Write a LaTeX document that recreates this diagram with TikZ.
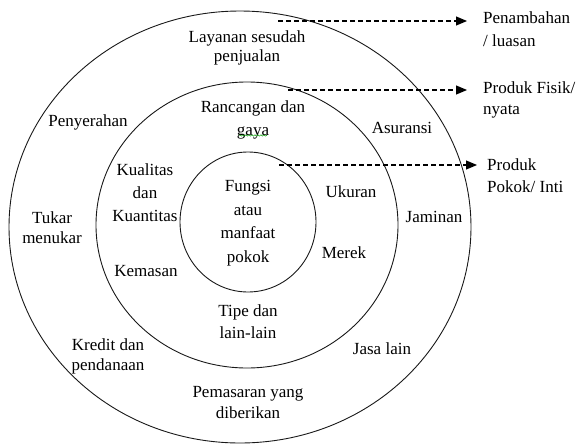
\documentclass[tikz,border=0pt]{standalone}
\usepackage{fontspec}
\setmainfont{Liberation Serif}
\usetikzlibrary{arrows.meta,decorations.pathmorphing}
\begin{document}
\begin{tikzpicture}[x=1pt,y=-1pt,
  ring/.style={draw=black!90,line width=0.9pt},
  lbl/.style={inner sep=0pt,align=center,font=\fontsize{17}{22}\selectfont},
  side/.style={inner sep=0pt,align=left,anchor=north west,font=\fontsize{17}{22}\selectfont},
  darrow/.style={draw=black,line width=1.1pt,dash pattern=on 5pt off 3pt,-{Triangle[length=11pt,width=9pt]}}]
\useasboundingbox (0,0) rectangle (579,445);
% rings
\draw[ring] (240,227) ellipse [x radius=231, y radius=216];
\draw[ring] (247,225) ellipse [x radius=151, y radius=143];
\draw[ring] (248,222) ellipse [x radius=68, y radius=70];
% outer ring labels
\node[lbl,font=\fontsize{17}{19}\selectfont] (layanan) at (247,48) {Layanan sesudah\\penjualan};
\node[lbl] (penyerahan) at (88,122) {Penyerahan};
\node[lbl,font=\fontsize{17}{20}\selectfont] (tukar) at (52,228) {Tukar\\menukar};
\node[lbl,font=\fontsize{17}{20}\selectfont] (kredit) at (108,356) {Kredit dan\\pendanaan};
\node[lbl,font=\fontsize{17}{21}\selectfont] (pemasaran) at (248,403) {Pemasaran yang\\diberikan};
\node[lbl] (asuransi) at (402,128) {Asuransi};
\node[lbl] (jaminan) at (434,217) {Jaminan};
\node[lbl] (jasa) at (382,349) {Jasa lain};
% middle ring labels
\node[lbl,font=\fontsize{17}{23}\selectfont] (rancangan) at (253,120) {Rancangan dan\\gaya};
\draw[green!60!black,line width=0.5pt,decorate,decoration={snake,amplitude=0.7pt,segment length=3pt}] ([xshift=-14pt,yshift=4pt]rancangan.south) -- ([xshift=14pt,yshift=4pt]rancangan.south);
\node[lbl,font=\fontsize{17}{23}\selectfont] (kualitas) at (145,193) {Kualitas\\dan\\Kuantitas};
\node[lbl] (kemasan) at (146,271) {Kemasan};
\node[lbl] (ukuran) at (351,192) {Ukuran};
\node[lbl] (merek) at (344,253) {Merek};
\node[lbl,font=\fontsize{17}{22}\selectfont] (tipe) at (248,322) {Tipe dan\\lain-lain};
% inner
\node[lbl,font=\fontsize{17}{23.5}\selectfont] (fungsi) at (248,223) {Fungsi\\atau\\manfaat\\pokok};
% side labels
\node[side,font=\fontsize{17}{23}\selectfont] (tambah) at (483,12) {Penambahan\\/ luasan};
\node[side,font=\fontsize{17}{21}\selectfont] (fisik) at (483,82) {Produk Fisik/\\nyata};
\node[side,font=\fontsize{17}{22}\selectfont] (pokok) at (487,158) {Produk\\Pokok/ Inti};
% arrows
\coordinate (a1) at (278,21);
\coordinate (a2) at (288,90);
\coordinate (a3) at (279,165);
\draw[darrow,shorten >=16pt] (a1) -- (tambah.west |- a1);
\draw[darrow,shorten >=16pt] (a2) -- (fisik.west |- a2);
\draw[darrow,shorten >=10pt] (a3) -- (pokok.west |- a3);
\end{tikzpicture}
\end{document}
